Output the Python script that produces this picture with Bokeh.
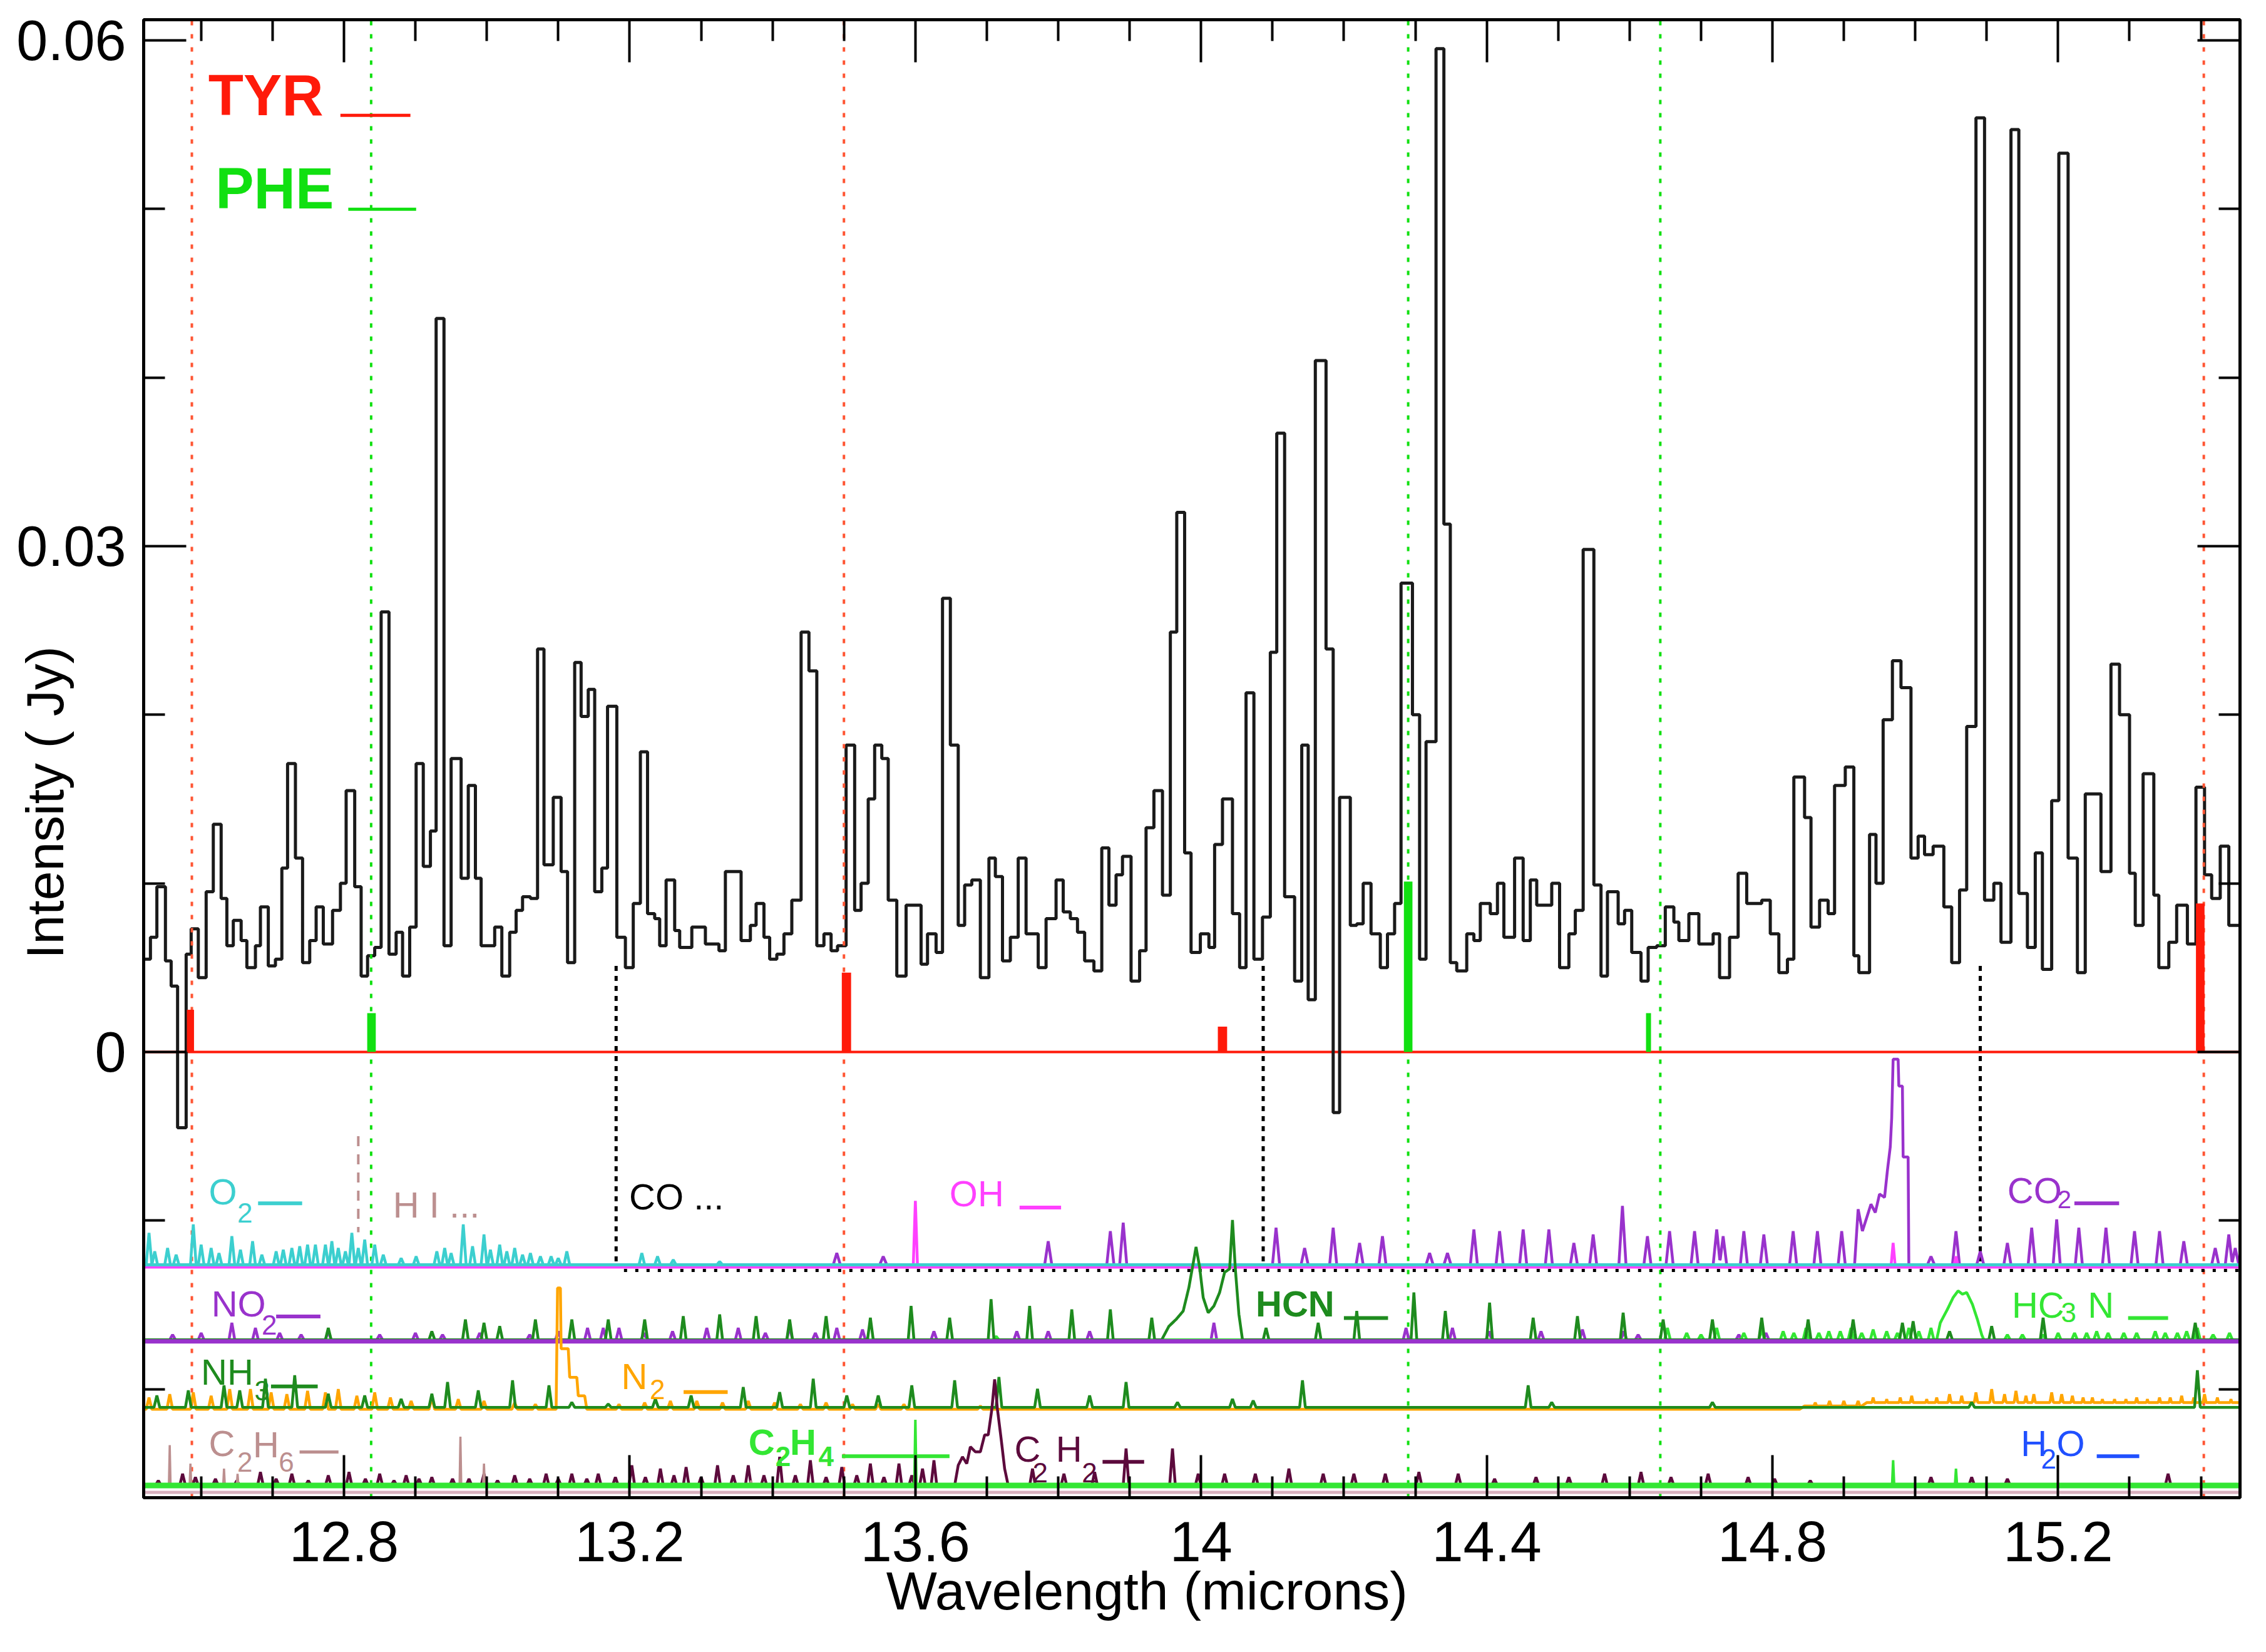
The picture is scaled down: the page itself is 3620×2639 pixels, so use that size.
import numpy as np
from bokeh.plotting import figure
from bokeh.models import Range1d, LinearAxis, FixedTicker, CustomJSTickFormatter
from bokeh.core.properties import value
from bokeh.embed import file_html
from bokeh.resources import INLINE

# ---------------- axes ----------------
X_MIN, X_MAX = 12.5195, 15.4547
Y_MIN, Y_MAX = -0.02644, 0.06122
X_MAJOR = [12.8, 13.2, 13.6, 14.0, 14.4, 14.8, 15.2]
X_MINOR = [12.6, 12.7, 12.9, 13.0, 13.1, 13.3, 13.4, 13.5, 13.7, 13.8, 13.9,
           14.1, 14.2, 14.3, 14.5, 14.6, 14.7, 14.9, 15.0, 15.1, 15.3, 15.4]
Y_MAJOR = [0.0, 0.03, 0.06]
Y_MINOR = [-0.02, -0.01, 0.01, 0.02, 0.04, 0.05]
X_TITLE = "Wavelength (microns)"
Y_TITLE = "Intensity ( Jy)"

# ---------------- observed spectrum (bin left edges, Jy) ----------------
SPEC_WL = [
    12.5195, 12.529, 12.538, 12.550, 12.558, 12.567, 12.579, 12.586, 12.596, 12.607,
    12.617, 12.628, 12.636, 12.645, 12.656, 12.664, 12.676, 12.683, 12.694, 12.704,
    12.713, 12.721, 12.732, 12.742, 12.752, 12.761, 12.771, 12.784, 12.795, 12.803,
    12.815, 12.824, 12.833, 12.843, 12.852, 12.863, 12.873, 12.882, 12.892, 12.901,
    12.911, 12.921, 12.929, 12.940, 12.950, 12.964, 12.974, 12.984, 12.992, 13.011,
    13.021, 13.032, 13.041, 13.050, 13.061, 13.071, 13.080, 13.093, 13.104, 13.113,
    13.123, 13.132, 13.142, 13.151, 13.161, 13.169, 13.182, 13.194, 13.205, 13.215,
    13.225, 13.235, 13.242, 13.251,
    13.263, 13.270, 13.287, 13.306, 13.325, 13.334, 13.356, 13.369, 13.377, 13.388,
    13.396, 13.406, 13.416, 13.427, 13.440, 13.451, 13.462, 13.472, 13.482, 13.491,
    13.503, 13.515, 13.524, 13.534, 13.543, 13.553, 13.562, 13.574, 13.587, 13.608,
    13.617, 13.629, 13.638, 13.649, 13.660, 13.669, 13.679, 13.691, 13.703, 13.712,
    13.722, 13.733, 13.744, 13.755, 13.772, 13.783, 13.797, 13.807, 13.817, 13.827,
    13.837, 13.850, 13.861, 13.871, 13.881, 13.890, 13.902, 13.914, 13.923, 13.934,
    13.946, 13.957, 13.966, 13.977, 13.986,
    13.999, 14.011, 14.019, 14.030, 14.044, 14.054, 14.063, 14.074, 14.086, 14.097,
    14.106, 14.117, 14.131, 14.141, 14.150, 14.160, 14.175, 14.185, 14.194, 14.209,
    14.218, 14.227, 14.238, 14.251, 14.261, 14.271, 14.280, 14.296, 14.306, 14.315,
    14.329, 14.340, 14.349, 14.358, 14.372, 14.382, 14.391, 14.405, 14.415, 14.424,
    14.439, 14.451, 14.461, 14.470, 14.491, 14.502, 14.515, 14.524, 14.535, 14.550,
    14.560, 14.569, 14.584, 14.593, 14.603, 14.616, 14.626, 14.638, 14.650, 14.662,
    14.669, 14.683, 14.697, 14.717, 14.726,
    14.740, 14.752, 14.764, 14.785, 14.797, 14.809, 14.821, 14.830, 14.845, 14.854,
    14.866, 14.878, 14.887, 14.902, 14.914, 14.921, 14.936, 14.945, 14.955, 14.968,
    14.980, 14.994, 15.004, 15.013, 15.025, 15.040, 15.051, 15.062, 15.072, 15.085,
    15.097, 15.110, 15.120, 15.134, 15.145, 15.157, 15.168, 15.178, 15.191, 15.201,
    15.214, 15.227, 15.238, 15.260, 15.274, 15.286, 15.300, 15.308, 15.319, 15.334,
    15.341, 15.355, 15.366, 15.381, 15.393, 15.405, 15.415, 15.427, 15.439,
]
SPEC_JY = [
    0.0055, 0.0068, 0.0098, 0.0054, 0.0039, -0.0045, 0.0058, 0.0073, 0.0044, 0.0095,
    0.0135, 0.0091, 0.0063, 0.0078, 0.0066, 0.0050, 0.0063, 0.0086, 0.0051, 0.0055,
    0.0109, 0.0171, 0.0115, 0.0053, 0.0066, 0.0086, 0.0064, 0.0084, 0.0100, 0.0155,
    0.0098, 0.0045, 0.0057, 0.0062, 0.0261, 0.0058, 0.0071, 0.0045, 0.0074, 0.0171,
    0.0110, 0.0131, 0.0435, 0.0063, 0.0174, 0.0103, 0.0158, 0.0103, 0.0063, 0.0074,
    0.0045, 0.0071, 0.0084, 0.0092, 0.0091, 0.0239, 0.0111, 0.0151, 0.0107, 0.0053,
    0.0231, 0.0199, 0.0215, 0.0095, 0.0109, 0.0205, 0.0068, 0.0050, 0.0088, 0.0178,
    0.0082, 0.0079, 0.0063, 0.0102,
    0.0072, 0.0062, 0.0074, 0.0064, 0.0060, 0.0107, 0.0066, 0.0075, 0.0088, 0.0068,
    0.0055, 0.0058, 0.0070, 0.0090, 0.0249, 0.0226, 0.0063, 0.0070, 0.0060, 0.0063,
    0.0182, 0.0084, 0.0100, 0.0150, 0.0182, 0.0174, 0.0090, 0.0045, 0.0087, 0.0052,
    0.0070, 0.0059, 0.0269, 0.0182, 0.0075, 0.0099, 0.0102, 0.0044, 0.0115, 0.0104,
    0.0054, 0.0068, 0.0115, 0.0070, 0.0050, 0.0079, 0.0102, 0.0083, 0.0079, 0.0071,
    0.0054, 0.0048, 0.0121, 0.0087, 0.0105, 0.0116, 0.0042, 0.0060, 0.0133, 0.0155,
    0.0093, 0.0249, 0.0320, 0.0118, 0.0059,
    0.0070, 0.0062, 0.0123, 0.0150, 0.0082, 0.0050, 0.0213, 0.0055, 0.0080, 0.0237,
    0.0367, 0.0092, 0.0042, 0.0182, 0.0031, 0.0410, 0.0239, -0.0036, 0.0151, 0.0075,
    0.0076, 0.0100, 0.0070, 0.0050, 0.0070, 0.0088, 0.0278, 0.0200, 0.0055, 0.0184,
    0.0595, 0.0313, 0.0053, 0.0048, 0.0070, 0.0066, 0.0088, 0.0082, 0.0100, 0.0068,
    0.0115, 0.0066, 0.0102, 0.0087, 0.0100, 0.0050, 0.0070, 0.0084, 0.0298, 0.0099,
    0.0045, 0.0095, 0.0076, 0.0084, 0.0059, 0.0042, 0.0062, 0.0063, 0.0086, 0.0077,
    0.0066, 0.0082, 0.0064, 0.0070, 0.0044,
    0.0068, 0.0106, 0.0088, 0.0090, 0.0070, 0.0047, 0.0055, 0.0163, 0.0139, 0.0074,
    0.0090, 0.0082, 0.0158, 0.0169, 0.0057, 0.0047, 0.0129, 0.0100, 0.0197, 0.0232,
    0.0216, 0.0115, 0.0128, 0.0117, 0.0122, 0.0086, 0.0053, 0.0096, 0.0193, 0.0554,
    0.0090, 0.0100, 0.0065, 0.0547, 0.0094, 0.0062, 0.0118, 0.0049, 0.0149, 0.0533,
    0.0115, 0.0047, 0.0153, 0.0107, 0.0230, 0.0200, 0.0106, 0.0075, 0.0165, 0.0093,
    0.0050, 0.0065, 0.0087, 0.0064, 0.0157, 0.0105, 0.0091, 0.0122, 0.0075,
]

# ---------------- amino acid markers ----------------
TYR_BAR_WL = [12.585, 13.5035, 14.030, 15.399]
TYR_BAR_H = [0.0025, 0.0047, 0.0015, 0.0088]
TYR_BAR_W = [0.010, 0.013, 0.013, 0.012]
PHE_BAR_WL = [12.8385, 14.290, 14.6265]
PHE_BAR_H = [0.0023, 0.0101, 0.0023]
PHE_BAR_W = [0.012, 0.012, 0.007]
TYR_MARK_WL = [12.587, 13.500, 15.404]
PHE_MARK_WL = [12.838, 14.290, 14.643]
CO_MARK_WL = [13.181, 14.087, 15.091]
CO_MARK_TOP, CO_MARK_BOTTOM = 0.0051, -0.0128
CO_FLOOR_Y, CO_FLOOR_START = -0.01296, 13.192
HI_WL, HI_TOP, HI_BOTTOM = 12.820, -0.0050, -0.0107

# ---------------- model panels (offsets in Jy) ----------------
B1, B2, B3, B4 = -0.01263, -0.01707, -0.02108, -0.02572

O2_WL = [12.527, 12.535, 12.553, 12.565, 12.589, 12.600, 12.614, 12.625, 12.643, 12.655,
         12.672, 12.685, 12.705, 12.715, 12.727, 12.738, 12.749, 12.760, 12.774, 12.783,
         12.792, 12.802, 12.811, 12.820, 12.829, 12.843, 12.855, 12.880, 12.901, 12.930,
         12.941, 12.950, 12.967, 12.980, 12.996, 13.005, 13.018, 13.028, 13.039, 13.050,
         13.061, 13.075, 13.090, 13.100, 13.112, 13.217, 13.239, 13.261, 13.326]
O2_H = [0.0019, 0.0008, 0.0010, 0.0006, 0.0024, 0.0012, 0.0010, 0.0007, 0.0017, 0.0009,
        0.0014, 0.0006, 0.0008, 0.0009, 0.0010, 0.0011, 0.0012, 0.0012, 0.0012, 0.0014,
        0.0010, 0.0008, 0.0019, 0.0010, 0.0015, 0.0012, 0.0006, 0.0004, 0.0005, 0.0008,
        0.0010, 0.0007, 0.0024, 0.0011, 0.0018, 0.0009, 0.0012, 0.0008, 0.0010, 0.0006,
        0.0007, 0.0005, 0.0005, 0.0004, 0.0008, 0.0007, 0.0005, 0.0003, 0.0002]
OH_WL = [13.600, 14.969, 15.057]
OH_H = [0.0039, 0.0014, 0.0006]
CO2_WL = [13.490, 13.555, 13.786, 13.873, 13.891, 14.105, 14.145, 14.185, 14.222, 14.254,
          14.320, 14.345, 14.382, 14.418, 14.451, 14.487, 14.522, 14.549, 14.590, 14.625,
          14.656, 14.691, 14.722, 14.731, 14.760, 14.788, 14.829, 14.863, 14.897, 15.022,
          15.057, 15.091, 15.129, 15.163, 15.198, 15.229, 15.267, 15.307, 15.342, 15.376,
          15.420, 15.439, 15.448]
CO2_H = [0.0007, 0.0005, 0.0014, 0.0020, 0.0025, 0.0022, 0.0010, 0.0022, 0.0013, 0.0017,
         0.0007, 0.0007, 0.0021, 0.0020, 0.0021, 0.0021, 0.0013, 0.0018, 0.0035, 0.0017,
         0.0020, 0.0020, 0.0021, 0.0017, 0.0020, 0.0018, 0.0020, 0.0020, 0.0020, 0.0005,
         0.0020, 0.0008, 0.0013, 0.0022, 0.0027, 0.0022, 0.0022, 0.0020, 0.0020, 0.0014,
         0.0010, 0.0018, 0.0010]
CO2_Q_WL = [14.915, 14.920, 14.926, 14.932, 14.938, 14.944, 14.950, 14.957, 14.961, 14.965,
            14.967, 14.969, 14.976, 14.977, 14.982, 14.983, 14.990, 14.991]
CO2_Q_H = [0.0, 0.0033, 0.0020, 0.0028, 0.0036, 0.0031, 0.0042, 0.0040, 0.0056, 0.0070,
           0.0087, 0.0122, 0.0122, 0.0106, 0.0106, 0.0064, 0.0064, 0.0]

NO2_WL = [12.560, 12.600, 12.643, 12.676, 12.710, 12.740, 12.778, 12.850, 12.900, 12.938,
          12.990, 13.060, 13.100, 13.141, 13.163, 13.185, 13.220, 13.260, 13.308, 13.352,
          13.390, 13.424, 13.460, 13.490, 13.526, 13.626, 13.742, 13.786, 13.844, 14.018,
          14.287, 14.352, 14.403, 14.476, 14.534, 14.592, 14.612, 14.753, 14.791]
NO2_H = [0.0003, 0.0004, 0.0010, 0.0007, 0.0004, 0.0003, 0.0005, 0.0003, 0.0004, 0.0003,
         0.0004, 0.0003, 0.0005, 0.0007, 0.0007, 0.0007, 0.0004, 0.0005, 0.0007, 0.0007,
         0.0004, 0.0008, 0.0004, 0.0007, 0.0006, 0.0005, 0.0005, 0.0005, 0.0005, 0.0010,
         0.0007, 0.0007, 0.0005, 0.0005, 0.0006, 0.0005, 0.0003, 0.0003, 0.0004]
HCN_WL = [12.778, 12.923, 12.970, 12.996, 13.018, 13.068, 13.119, 13.170, 13.221, 13.275,
          13.326, 13.377, 13.424, 13.475, 13.537, 13.594, 13.648, 13.706, 13.760, 13.819,
          13.873, 13.931, 14.091, 14.164, 14.218, 14.298, 14.342, 14.404, 14.465, 14.527,
          14.591, 14.647, 14.716, 14.785, 14.850, 14.913, 14.982, 14.997, 15.048, 15.107,
          15.179, 15.392]
HCN_H = [0.0007, 0.0005, 0.0012, 0.0010, 0.0008, 0.0012, 0.0012, 0.0012, 0.0012, 0.0014,
         0.0015, 0.0014, 0.0012, 0.0014, 0.0013, 0.0020, 0.0013, 0.0024, 0.0020, 0.0018,
         0.0018, 0.0013, 0.0007, 0.0010, 0.0017, 0.0028, 0.0017, 0.0022, 0.0013, 0.0014,
         0.0016, 0.0012, 0.0012, 0.0013, 0.0012, 0.0012, 0.0010, 0.0011, 0.0005, 0.0008,
         0.0013, 0.0010]
HCN_Q_WL = [13.945, 13.955, 13.965, 13.975, 13.983, 13.988, 13.993, 13.998, 14.003, 14.010,
            14.018, 14.026, 14.033, 14.040, 14.044, 14.048, 14.053, 14.058]
HCN_Q_H = [0.0, 0.0008, 0.0012, 0.0017, 0.0031, 0.0043, 0.0055, 0.0043, 0.0025, 0.0016,
           0.0020, 0.0028, 0.0040, 0.0042, 0.0071, 0.0042, 0.0015, 0.0]
HC3N_WL = [13.713, 14.653, 14.680, 14.700, 14.722, 14.760, 14.785, 14.815, 14.830, 14.847,
           14.865, 14.879, 14.895, 14.910, 14.925, 14.941, 14.960, 14.975, 14.991, 15.005,
           15.022, 15.129, 15.150, 15.179, 15.200, 15.223, 15.240, 15.254, 15.270, 15.292,
           15.310, 15.336, 15.350, 15.367, 15.380, 15.395, 15.417, 15.440]
HC3N_H = [0.0002, 0.0007, 0.0004, 0.0003, 0.0007, 0.0004, 0.0006, 0.0005, 0.0004, 0.0007,
          0.0004, 0.0005, 0.0005, 0.0007, 0.0004, 0.0006, 0.0005, 0.0004, 0.0007, 0.0005,
          0.0007, 0.0003, 0.0003, 0.0003, 0.0004, 0.0004, 0.0004, 0.0005, 0.0004, 0.0004,
          0.0004, 0.0005, 0.0004, 0.0004, 0.0005, 0.0007, 0.0003, 0.0004]
HC3N_Q_WL = [15.030, 15.035, 15.045, 15.053, 15.060, 15.066, 15.072, 15.080, 15.087, 15.093, 15.096]
HC3N_Q_H = [0.0, 0.0010, 0.0018, 0.0025, 0.0029, 0.0027, 0.0028, 0.0021, 0.0012, 0.0003, 0.0]

NH3_WL = [12.538, 12.582, 12.632, 12.654, 12.690, 12.731, 12.778, 12.829, 12.880, 12.923,
          12.945, 12.988, 13.036, 13.087, 13.119, 13.170, 13.236, 13.286, 13.359, 13.410,
          13.457, 13.504, 13.548, 13.595, 13.655, 13.717, 13.771, 13.844, 13.895, 13.967,
          14.044, 14.073, 14.142, 14.458, 14.491, 14.716, 15.079, 15.395]
NH3_H = [0.0007, 0.0010, 0.0013, 0.0010, 0.0017, 0.0019, 0.0008, 0.0007, 0.0005, 0.0008,
         0.0015, 0.0010, 0.0016, 0.0013, 0.0003, 0.0002, 0.0005, 0.0007, 0.0012, 0.0009,
         0.0017, 0.0007, 0.0007, 0.0013, 0.0016, 0.0018, 0.0011, 0.0007, 0.0015, 0.0003,
         0.0005, 0.0004, 0.0016, 0.0013, 0.0003, 0.0003, 0.0003, 0.0022]
N2_WL = [12.527, 12.556, 12.589, 12.614, 12.640, 12.669, 12.698, 12.720, 12.749, 12.774,
         12.792, 12.818, 12.843, 12.865, 12.894, 12.923, 12.960, 12.996, 13.039, 13.068,
         13.185, 13.221, 13.257, 13.294, 13.330, 13.366, 13.403, 13.439, 13.475, 13.512,
         13.548, 13.584, 13.691, 14.860, 14.880, 14.900, 14.920, 14.941, 14.960, 14.979,
         14.995, 15.016, 15.030, 15.048, 15.065, 15.085, 15.107, 15.125, 15.141, 15.155,
         15.166, 15.191, 15.205, 15.220, 15.235, 15.248, 15.262, 15.279, 15.295, 15.310,
         15.325, 15.342, 15.357, 15.373, 15.390, 15.405, 15.423, 15.442]
N2_H = [0.0007, 0.0009, 0.0010, 0.0008, 0.0012, 0.0012, 0.0010, 0.0009, 0.0011, 0.0010,
        0.0012, 0.0008, 0.0010, 0.0007, 0.0005, 0.0007, 0.0006, 0.0005, 0.0004, 0.0003,
        0.0003, 0.0004, 0.0005, 0.0005, 0.0004, 0.0005, 0.0004, 0.0003, 0.0004, 0.0003,
        0.0003, 0.0003, 0.0002, 0.0004, 0.0005, 0.0005, 0.0005, 0.0007, 0.0006, 0.0007,
        0.0008, 0.0006, 0.0007, 0.0009, 0.0008, 0.0010, 0.0012, 0.0009, 0.0011, 0.0008,
        0.0009, 0.0010, 0.0009, 0.0008, 0.0007, 0.0007, 0.0006, 0.0006, 0.0006, 0.0007,
        0.0006, 0.0007, 0.0007, 0.0008, 0.0007, 0.0009, 0.0007, 0.0006]
N2_BAND_WL = [13.097, 13.099, 13.103, 13.104, 13.114, 13.116, 13.126, 13.128, 13.137, 13.140,
              14.838, 14.845, 14.925, 14.932, 15.4547]
N2_BAND_H = [0.0, 0.0072, 0.0072, 0.0036, 0.0036, 0.0019, 0.0019, 0.0008, 0.0008, 0.0,
             0.0, 0.0002, 0.0002, 0.0004, 0.0004]

C2H2_WL = [12.540, 12.574, 12.592, 12.620, 12.650, 12.683, 12.705, 12.727, 12.750, 12.778,
           12.807, 12.830, 12.850, 12.870, 12.887, 12.905, 12.923, 12.952, 12.975, 12.996,
           13.015, 13.039, 13.060, 13.083, 13.100, 13.119, 13.140, 13.156, 13.180, 13.203,
           13.222, 13.243, 13.262, 13.279, 13.300, 13.323, 13.345, 13.366, 13.388, 13.410,
           13.432, 13.453, 13.475, 13.497, 13.518, 13.537, 13.556, 13.577, 13.595, 13.610,
           13.626, 13.764, 13.808, 13.851, 13.895, 13.960, 13.996, 14.033, 14.076, 14.123,
           14.171, 14.214, 14.258, 14.305, 14.360, 14.411, 14.469, 14.515, 14.565, 14.616,
           14.658, 14.710, 14.766, 14.803, 14.853, 15.022, 15.079, 15.129, 15.354]
C2H2_H = [0.0003, 0.0007, 0.0005, 0.0004, 0.0003, 0.0008, 0.0004, 0.0007, 0.0003, 0.0006,
          0.0008, 0.0004, 0.0007, 0.0003, 0.0006, 0.0004, 0.0005, 0.0004, 0.0004, 0.0007,
          0.0003, 0.0006, 0.0004, 0.0007, 0.0004, 0.0007, 0.0004, 0.0007, 0.0005, 0.0012,
          0.0005, 0.0010, 0.0006, 0.0011, 0.0005, 0.0012, 0.0006, 0.0012, 0.0006, 0.0017,
          0.0006, 0.0015, 0.0005, 0.0011, 0.0006, 0.0013, 0.0005, 0.0013, 0.0006, 0.0010,
          0.0015, 0.0010, 0.0007, 0.0008, 0.0022, 0.0022, 0.0007, 0.0007, 0.0007, 0.0010,
          0.0007, 0.0007, 0.0007, 0.0008, 0.0007, 0.0004, 0.0005, 0.0005, 0.0007, 0.0008,
          0.0005, 0.0007, 0.0005, 0.0004, 0.0003, 0.0005, 0.0005, 0.0004, 0.0007]
C2H2_Q_WL = [13.655, 13.660, 13.666, 13.672, 13.677, 13.684, 13.691, 13.697, 13.702, 13.707,
             13.711, 13.715, 13.720, 13.725, 13.730]
C2H2_Q_H = [0.0, 0.0012, 0.0017, 0.0013, 0.0023, 0.0020, 0.0020, 0.0030, 0.0030, 0.0045,
            0.0063, 0.0045, 0.0028, 0.0010, 0.0]
C2H6_WL = [12.556, 12.585, 12.632, 12.651, 12.963, 12.996, 13.370]
C2H6_H = [0.0024, 0.0013, 0.0010, 0.0007, 0.0029, 0.0013, 0.0003]
C2H4_WL = [13.600, 14.969, 15.057]
C2H4_H = [0.0039, 0.0015, 0.0010]

# ---------------- colours ----------------
RED = "#FF1A0A"
RED_DOT = "#FF5533"
GREEN = "#11E011"
CYAN = "#3CCFCF"
MAGENTA = "#FF40FF"
PURPLE = "#9932CC"
DKGREEN = "#1E8B1E"
LIME = "#33E633"
ORANGE = "#FFA500"
ROSY = "#BC8F8F"
MAROON = "#5C0A3C"
BLUE = "#2050FF"

# ---------------- labels (x = left edge, y = baseline) ----------------
BIG_TEXT = ["TYR", "PHE"]
BIG_X = [12.610, 12.620]
BIG_Y = [0.05607, 0.05053]
BIG_COLOR = [RED, GREEN]
BIG_PX = 92

LBL_TEXT = ["O", "2", "H I ...", "CO ...", "OH", "CO", "2",
            "NO", "2", "HC", "3", "N",
            "NH", "3", "N", "2",
            "C", "2", "H", "6", "C", "2", "H", "2", "H", "2", "O"]
LBL_X = [12.6106, 12.6506, 12.8686, 13.1992, 13.6478, 15.1289, 15.199,
         12.6143, 12.6847, 15.1352, 15.204, 15.2416,
         12.5997, 12.6746, 13.1883, 13.2282,
         12.6106, 12.6506, 12.6724, 12.7087, 13.7386, 13.764, 13.7967, 13.8331,
         15.1477, 15.1759, 15.1978]
LBL_Y = [-0.00873, -0.00989, -0.00948, -0.00903, -0.00882, -0.00865, -0.00905,
         -0.01536, -0.01652, -0.01545, -0.01578, -0.01545,
         -0.01942, -0.02042, -0.01967, -0.02034,
         -0.02365, -0.02464, -0.02373, -0.02464, -0.02398, -0.0253, -0.02398, -0.0253,
         -0.02365, -0.02448, -0.02365]
LBL_COLOR = [CYAN, CYAN, ROSY, "black", MAGENTA, PURPLE, PURPLE,
             PURPLE, PURPLE, LIME, LIME, LIME,
             DKGREEN, DKGREEN, ORANGE, ORANGE,
             ROSY, ROSY, ROSY, ROSY, MAROON, MAROON, MAROON, MAROON,
             BLUE, BLUE, BLUE]
LBL_PX = [58, 44, 58, 58, 58, 58, 40,
          58, 44, 58, 44, 58,
          58, 44, 58, 44,
          58, 44, 58, 44, 58, 44, 58, 44,
          58, 44, 58]
BOLD_TEXT = ["HCN", "C", "2", "H", "4"]
BOLD_X = [14.0765, 13.3663, 13.404, 13.4244, 13.4644]
BOLD_Y = [-0.01536, -0.02357, -0.0243, -0.02357, -0.0243]
BOLD_COLOR = [DKGREEN, LIME, LIME, LIME, LIME]
BOLD_PX = [58, 58, 44, 58, 44]

KEY_X0 = [12.795, 12.806, 12.6797, 13.7459, 15.2228, 12.705, 14.200, 15.298,
          12.6978, 13.2755, 12.7378, 13.4971, 13.8621, 15.2541]
KEY_X1 = [12.893, 12.901, 12.7414, 13.804, 15.2854, 12.767, 14.2618, 15.354,
          12.7632, 13.3372, 12.7923, 13.6478, 13.9203, 15.3136]
KEY_Y = [0.05555, 0.04998, -0.00898, -0.00923, -0.00898, -0.01569, -0.01578, -0.01578,
         -0.01984, -0.02017, -0.02373, -0.02398, -0.02431, -0.02398]
KEY_COLOR = [RED, GREEN, CYAN, MAGENTA, PURPLE, PURPLE, DKGREEN, LIME,
             DKGREEN, ORANGE, ROSY, LIME, MAROON, BLUE]
KEY_WIDTH = [5, 5, 6, 6, 6, 6, 6, 6, 6, 6, 5, 6, 6, 6]

FONT = "Liberation Sans"
NBSP = "\u00a0"

# ---------------- figure geometry ----------------
FIG_W, FIG_H = 3604, 2623
BORDER_L, BORDER_R, BORDER_T, BORDER_B = 229, 26, 31, 231
PX_PER_JY = (FIG_H - BORDER_T - BORDER_B) / (Y_MAX - Y_MIN)


def lift(ys, sizes):
    return [y + 0.2 * s / PX_PER_JY for y, s in zip(ys, sizes)]


GRID = np.linspace(X_MIN, X_MAX, 4200)


def profile(wl, h, half, band_wl=(), band_h=()):
    parts = [GRID]
    for w in wl:
        parts.append(np.array([w - half, w, w + half]))
    if len(band_wl):
        parts.append(np.asarray(band_wl, dtype=float))
    g = np.unique(np.concatenate(parts))
    g = g[(g >= X_MIN) & (g <= X_MAX)]
    y = np.zeros_like(g)
    for w, hh in zip(wl, h):
        y = np.maximum(y, hh * np.clip(1.0 - np.abs(g - w) / half, 0.0, None))
    if len(band_wl):
        y = np.maximum(y, np.interp(g, band_wl, band_h, left=0.0, right=0.0))
    return g, y


p = figure(width=FIG_W, height=FIG_H, output_backend="svg", toolbar_location=None,
           x_range=Range1d(X_MIN, X_MAX), y_range=Range1d(Y_MIN, Y_MAX),
           x_axis_location=None, y_axis_location=None,
           min_border_left=BORDER_L, min_border_right=BORDER_R,
           min_border_top=BORDER_T, min_border_bottom=BORDER_B)
p.xgrid.grid_line_color = None
p.ygrid.grid_line_color = None
p.outline_line_color = "black"
p.outline_line_width = 5
p.background_fill_color = "white"
p.border_fill_color = "white"

xfmt = CustomJSTickFormatter(code="return Math.abs(tick - Math.round(tick)) < 1e-6 ? tick.toFixed(0) : tick.toFixed(1);")
yfmt = CustomJSTickFormatter(code="return Math.abs(tick) < 1e-9 ? '0' : tick.toFixed(2);")
nofmt = CustomJSTickFormatter(code="return '';")


def style_axis(ax, show):
    ax.axis_line_width = 5
    ax.axis_line_color = "black"
    ax.major_tick_in = 68
    ax.major_tick_out = 0
    ax.minor_tick_in = 34
    ax.minor_tick_out = 0
    ax.major_tick_line_width = 4
    ax.minor_tick_line_width = 4
    ax.major_label_text_font = FONT
    ax.major_label_text_color = "black"
    ax.axis_label_text_font = FONT
    ax.axis_label_text_font_style = "normal"
    ax.axis_label_text_color = "black"
    if show:
        ax.major_label_text_font_size = "90px"
    else:
        ax.major_label_text_font_size = "1px"
        ax.major_label_standoff = 0
    return ax


bottom = style_axis(LinearAxis(ticker=FixedTicker(ticks=X_MAJOR, minor_ticks=X_MINOR), formatter=xfmt), True)
bottom.major_label_standoff = 38
bottom.axis_label = X_TITLE + NBSP * 6
bottom.axis_label_text_font_size = "86px"
bottom.axis_label_standoff = -4
top = style_axis(LinearAxis(ticker=FixedTicker(ticks=X_MAJOR, minor_ticks=X_MINOR), formatter=nofmt), False)
left = style_axis(LinearAxis(ticker=FixedTicker(ticks=Y_MAJOR, minor_ticks=Y_MINOR), formatter=yfmt), True)
left.major_label_standoff = 28
left.axis_label = Y_TITLE + NBSP * 6
left.axis_label_text_font_size = "84px"
left.axis_label_standoff = -96
right = style_axis(LinearAxis(ticker=FixedTicker(ticks=Y_MAJOR, minor_ticks=Y_MINOR), formatter=nofmt), False)
p.add_layout(bottom, "below")
p.add_layout(top, "above")
p.add_layout(left, "left")
p.add_layout(right, "right")

# zero line and observed spectrum
p.line([X_MIN, X_MAX], [0.0, 0.0], line_color=RED, line_width=4)
p.step(SPEC_WL + [X_MAX], SPEC_JY + [SPEC_JY[-1]], mode="after", line_color="#1a1a1a", line_width=5)

# marker lines
n_t = len(TYR_MARK_WL)
p.segment(x0=TYR_MARK_WL, y0=[Y_MIN] * n_t, x1=TYR_MARK_WL, y1=[Y_MAX] * n_t,
          line_color=RED_DOT, line_width=4, line_dash="7 14")
n_p = len(PHE_MARK_WL)
p.segment(x0=PHE_MARK_WL, y0=[Y_MIN] * n_p, x1=PHE_MARK_WL, y1=[Y_MAX] * n_p,
          line_color=GREEN, line_width=4, line_dash="7 14")
n_c = len(CO_MARK_WL)
p.segment(x0=CO_MARK_WL, y0=[CO_MARK_TOP] * n_c, x1=CO_MARK_WL, y1=[CO_MARK_BOTTOM] * n_c,
          line_color="black", line_width=5, line_dash="8 8")
p.segment(x0=[HI_WL], y0=[HI_TOP], x1=[HI_WL], y1=[HI_BOTTOM], line_color=ROSY, line_width=4, line_dash="16 13")

# amino-acid bars
p.vbar(x=TYR_BAR_WL, width=TYR_BAR_W, top=TYR_BAR_H, bottom=0, fill_color=RED, line_color=None)
p.vbar(x=PHE_BAR_WL, width=PHE_BAR_W, top=PHE_BAR_H, bottom=0, fill_color=GREEN, line_color=None)

LW = 4.5
# ---- panel 1: CO2, OH, O2 ----
g, y = profile(CO2_WL, CO2_H, 0.005, CO2_Q_WL, CO2_Q_H)
p.line(g, B1 + y, line_color=PURPLE, line_width=LW)
g, y = profile(OH_WL, OH_H, 0.003)
p.line(g, B1 - 0.0001 + y, line_color=MAGENTA, line_width=LW)
g, y = profile(O2_WL, O2_H, 0.004)
p.line(g, B1 + y, line_color=CYAN, line_width=LW)
p.line([X_MIN, X_MAX], [B1 - 0.00015, B1 - 0.00015], line_color=MAGENTA, line_width=4)
p.line([X_MIN, X_MAX], [B1, B1], line_color=CYAN, line_width=5)
p.line([CO_FLOOR_START, X_MAX], [CO_FLOOR_Y, CO_FLOOR_Y], line_color="black", line_width=5, line_dash="5 13")

# ---- panel 2: NO2, HC3N, HCN ----
g, y = profile(NO2_WL, NO2_H, 0.004)
p.line(g, B2 + y, line_color=PURPLE, line_width=LW)
g, y = profile(HC3N_WL, HC3N_H, 0.004, HC3N_Q_WL, HC3N_Q_H)
p.line(g, B2 + y, line_color=LIME, line_width=LW)
g, y = profile(HCN_WL, HCN_H, 0.004, HCN_Q_WL, HCN_Q_H)
p.line(g, B2 + y, line_color=DKGREEN, line_width=LW)
p.line([X_MIN, X_MAX], [B2 - 0.0001, B2 - 0.0001], line_color=PURPLE, line_width=7)

# ---- panel 3: N2, NH3 ----
g, y = profile(N2_WL, N2_H, 0.004, N2_BAND_WL, N2_BAND_H)
p.line(g, B3 - 0.00012 + y, line_color=ORANGE, line_width=LW)
g, y = profile(NH3_WL, NH3_H, 0.004)
p.line(g, B3 + y, line_color=DKGREEN, line_width=LW)

# ---- panel 4: C2H2, C2H6, C2H4 ----
g, y = profile(C2H2_WL, C2H2_H, 0.004, C2H2_Q_WL, C2H2_Q_H)
p.line(g, B4 + y, line_color=MAROON, line_width=LW)
g, y = profile(C2H6_WL, C2H6_H, 0.0012)
p.line(g, B4 + y, line_color=ROSY, line_width=3.5)
p.line([X_MIN, X_MAX], [B4 - 0.0004, B4 - 0.0004], line_color="#D8B0BE", line_width=5)
p.line([X_MIN, X_MAX], [B4, B4], line_color=LIME, line_width=9)
g, y = profile(C2H4_WL, C2H4_H, 0.0015)
p.line(g, B4 + y, line_color=LIME, line_width=4)

# ---- labels ----
p.segment(x0=KEY_X0, y0=KEY_Y, x1=KEY_X1, y1=KEY_Y, line_color=KEY_COLOR, line_width=KEY_WIDTH)
p.text(x=BIG_X, y=lift(BIG_Y, [BIG_PX] * len(BIG_Y)), text=BIG_TEXT, text_color=BIG_COLOR,
       text_font=value(FONT), text_font_size=f"{BIG_PX}px", text_font_style="bold",
       text_baseline="alphabetic", text_align="left")
p.text(x=LBL_X, y=lift(LBL_Y, LBL_PX), text=LBL_TEXT, text_color=LBL_COLOR, text_font=value(FONT),
       text_font_size=[f"{s}px" for s in LBL_PX], text_baseline="alphabetic", text_align="left")
p.text(x=BOLD_X, y=lift(BOLD_Y, BOLD_PX), text=BOLD_TEXT, text_color=BOLD_COLOR, text_font=value(FONT),
       text_font_size=[f"{s}px" for s in BOLD_PX], text_font_style="bold",
       text_baseline="alphabetic", text_align="left")

open("out.html", "w").write(file_html(p, INLINE))
